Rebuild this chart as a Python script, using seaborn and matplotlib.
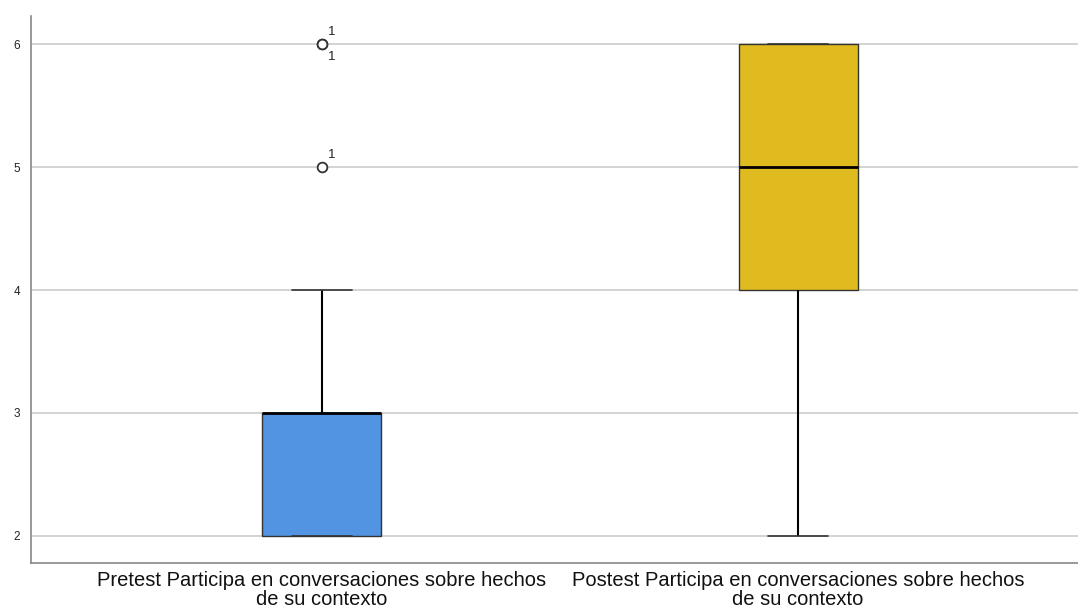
# Boxplot Pretest vs Postest: Participa en conversaciones sobre hechos de su contexto
import matplotlib
matplotlib.use('Agg')
import matplotlib.pyplot as plt
import seaborn as sns
import pandas as pd
import numpy as np

# %% Data
# Scores (17 participants, values 2-6)
pretest = [2, 2, 2, 2, 2, 3, 3, 3, 3, 3, 3, 3, 3, 4, 5, 6, 6]
postest = [2, 3, 4, 4, 4, 4, 5, 5, 5, 5, 6, 6, 6, 6, 6, 6, 6]
labels = ['Pretest Participa en conversaciones sobre hechos\nde su contexto',
          'Postest Participa en conversaciones sobre hechos\nde su contexto']
colors = ['#5294E2', '#E0BB1F']
# outlier case labels (value, label)
outlier_labels = [(6, '1'), (6, '1'), (5, '1')]

df = pd.DataFrame({'grupo': [labels[0]] * len(pretest) + [labels[1]] * len(postest),
                   'valor': pretest + postest})

# %% Plot
sns.set_theme(style='white')
plt.rcParams['font.family'] = ['Liberation Sans', 'DejaVu Sans']

fig = plt.figure(figsize=(10.78, 6.09), dpi=100)
ax = fig.add_axes([0.0288, 0.0755, 0.9712, 0.898])

sns.boxplot(data=df, x='grupo', y='valor', hue='grupo', palette=colors, legend=False,
            width=0.25, whis=1.5, saturation=1, ax=ax, zorder=3,
            boxprops=dict(edgecolor='#333333', linewidth=1.0),
            medianprops=dict(color='black', linewidth=2),
            whiskerprops=dict(color='black', linewidth=1.5),
            capprops=dict(color='#333333', linewidth=1.2),
            flierprops=dict(marker='o', markersize=7, markerfacecolor='white',
                            markeredgecolor='#333333', markeredgewidth=1.3))

# outlier case numbers
offs = [(4, 4), (4, -14), (4, 4)]
for (v, t), (dx, dy) in zip(outlier_labels, offs):
    ax.annotate(t, xy=(0, v), xytext=(dx, dy), textcoords='offset points',
                fontsize=9.5, ha='left', va='bottom', color='#222222')

ax.set_xlim(-0.611, 1.588)
ax.set_ylim(1.78, 6.227)
ax.set_yticks([2, 3, 4, 5, 6])
ax.yaxis.grid(True, color='#D0D0D0', linewidth=1.3, zorder=0)
ax.set_axisbelow(True)
ax.set_xlabel('')
ax.set_ylabel('')
ax.tick_params(axis='y', labelsize=8.5, length=0, pad=8, colors='#222222')
ax.tick_params(axis='x', labelsize=14.5, length=0, pad=6, colors='#111111')
for lab in ax.get_xticklabels():
    lab.set_linespacing(1.0)
for s in ['top', 'right']:
    ax.spines[s].set_visible(False)
for s in ['left', 'bottom']:
    ax.spines[s].set_color('#888888')
    ax.spines[s].set_linewidth(1.2)

#---- Save figure ----#
fig.savefig('out.png', dpi=100)
